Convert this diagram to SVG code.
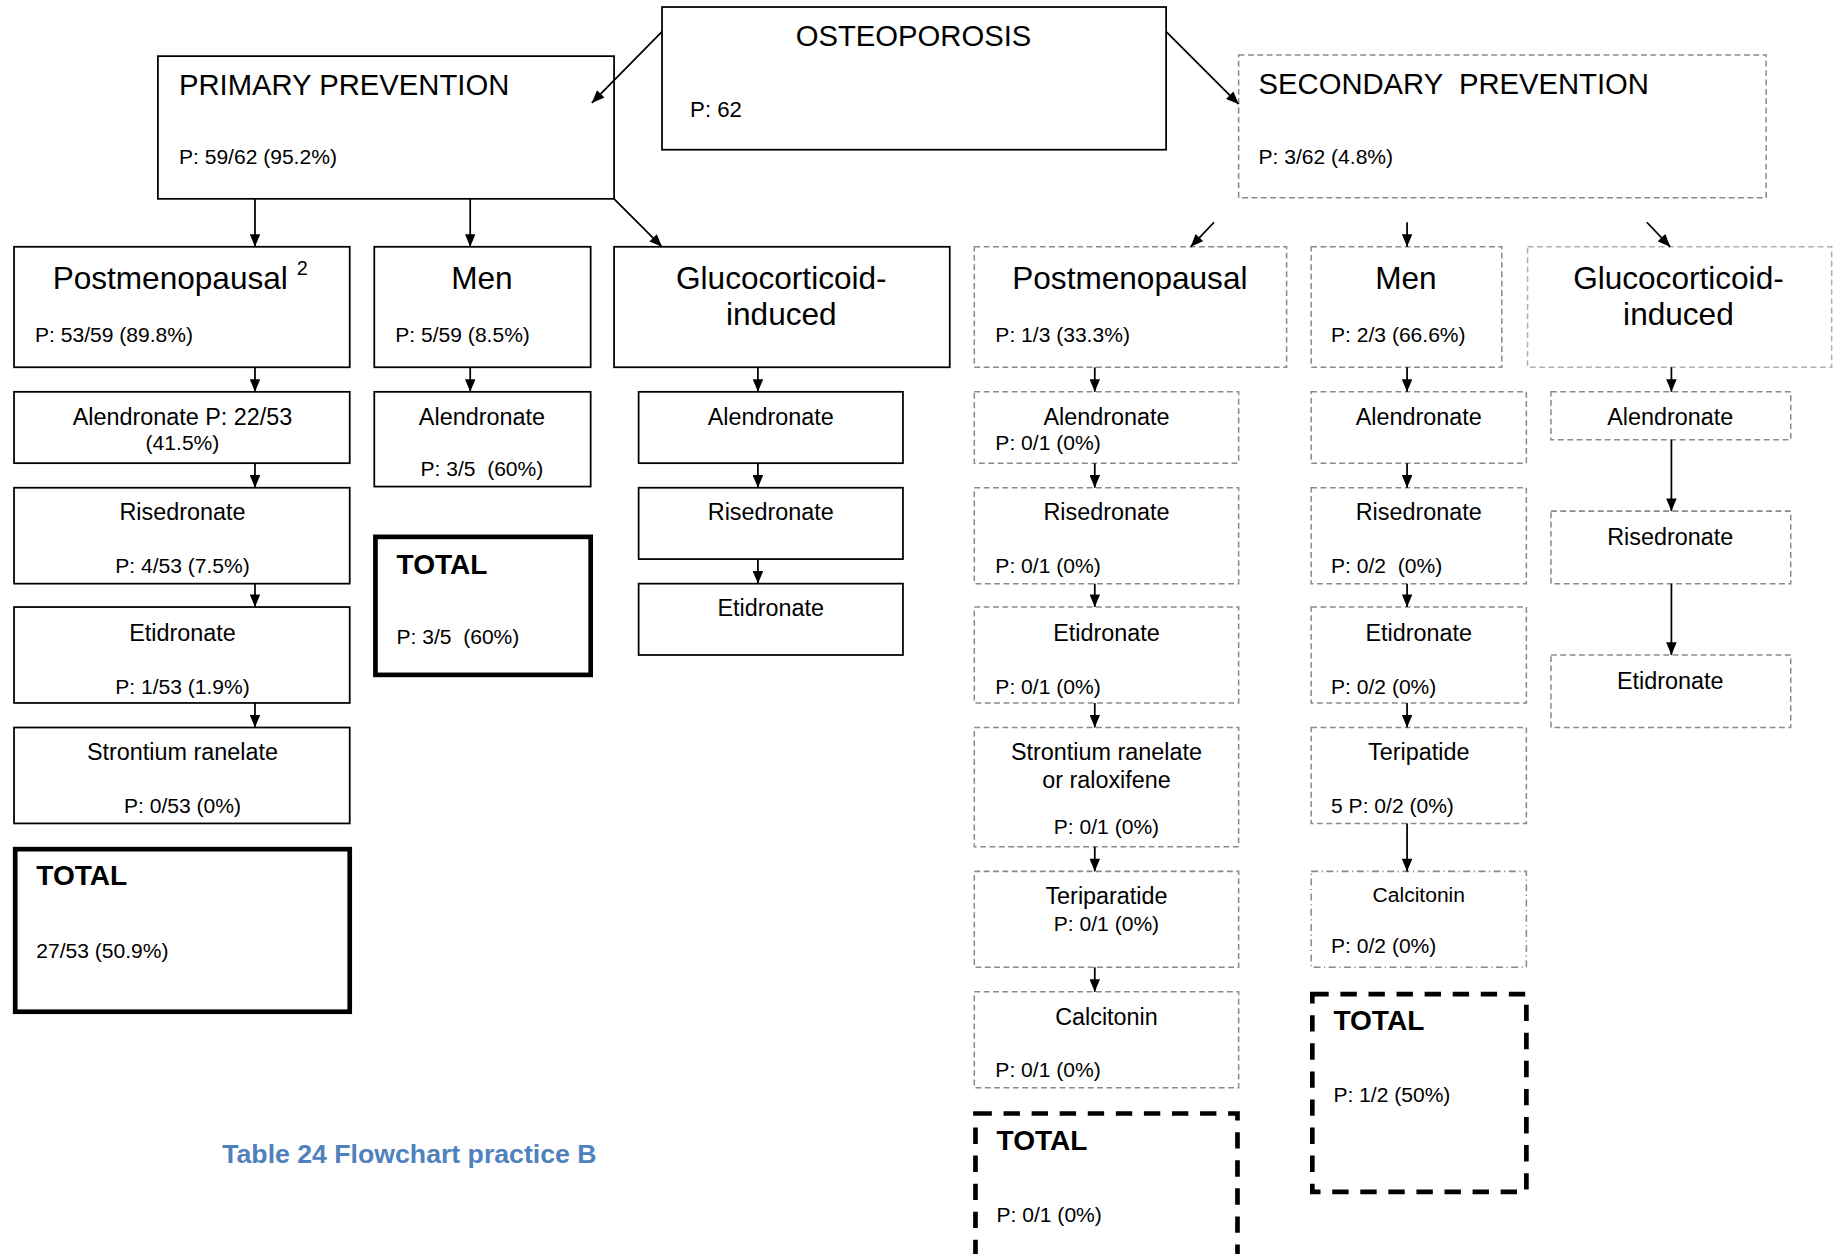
<svg xmlns="http://www.w3.org/2000/svg" width="1834" height="1254" viewBox="0 0 1834 1254">
<style>
text { font-family: "Liberation Sans", Arial, Helvetica, sans-serif; fill: #000; }
.h25 { font-size: 25px; }
.h27 { font-size: 27px; }
.b20 { font-size: 20px; }
.p18 { font-size: 18px; }
.c { text-anchor: middle; }
.tot { font-size: 24px; font-weight: bold; }
.box { fill: #fff; stroke: #000; stroke-width: 1.5; }
.dbox { fill: #fff; stroke: #8a8a8a; stroke-width: 1.3; stroke-dasharray: 5 3; }
.lbox { fill: #fff; stroke: #b0b0b0; stroke-width: 1.3; stroke-dasharray: 5 3; }
.ddbox { fill: #fff; stroke: #8a8a8a; stroke-width: 1.3; stroke-dasharray: 6 3 1 3; }
.thick { fill: #fff; stroke: #000; stroke-width: 4; }
.tdash { fill: #fff; stroke: #000; stroke-width: 4; stroke-dasharray: 14 10; }
.cn { fill: none; stroke: #000; stroke-width: 1.5; marker-end: url(#ah); }
.cap { font-size: 22.8px; font-weight: bold; fill: #4f81bd; }
</style>
<defs>
<marker id="ah" viewBox="0 0 12 10" refX="12" refY="5" markerWidth="12" markerHeight="9" orient="auto" markerUnits="userSpaceOnUse">
<path d="M0,0 L12,5 L0,10 z" fill="#000"/>
</marker>
</defs>
<rect width="1834" height="1254" fill="#fff"/>
<g transform="scale(1.16964)">

<g id="osteoporosis">
<rect class="box" x="566" y="6" width="431" height="122"/>
<text class="h25 c" x="781" y="39">OSTEOPOROSIS</text>
<text x="590" y="100" style="font-size:19px">P: 62</text>
</g>

<g id="primary">
<rect class="box" x="135" y="48" width="390" height="122"/>
<text class="h25" x="153" y="81">PRIMARY PREVENTION</text>
<text class="p18" x="153" y="140">P: 59/62 (95.2%)</text>
</g>

<g id="secondary">
<rect class="dbox" x="1059" y="47" width="451" height="122"/>
<text class="h25" x="1076" y="80" xml:space="preserve">SECONDARY  PREVENTION</text>
<text class="p18" x="1076" y="140">P: 3/62 (4.8%)</text>
</g>

<!-- Primary categories -->
<g id="p-post">
<rect class="box" x="12" y="211" width="287" height="103"/>
<text class="h27" x="45" y="247">Postmenopausal <tspan font-size="17" dy="-12">2</tspan></text>
<text class="p18" x="30" y="292">P: 53/59 (89.8%)</text>
</g>
<g id="p-men">
<rect class="box" x="320" y="211" width="185" height="103"/>
<text class="h27 c" x="412" y="247">Men</text>
<text class="p18" x="338" y="292">P: 5/59 (8.5%)</text>
</g>
<g id="p-gluco">
<rect class="box" x="525" y="211" width="287" height="103"/>
<text class="h27 c" x="668" y="247">Glucocorticoid-</text>
<text class="h27 c" x="668" y="278">induced</text>
</g>

<!-- Secondary categories -->
<g id="s-post">
<rect class="dbox" x="833" y="211" width="267" height="103"/>
<text class="h27 c" x="966" y="247">Postmenopausal</text>
<text class="p18" x="851" y="292">P: 1/3 (33.3%)</text>
</g>
<g id="s-men">
<rect class="dbox" x="1121" y="211" width="163" height="103"/>
<text class="h27 c" x="1202" y="247">Men</text>
<text class="p18" x="1138" y="292">P: 2/3 (66.6%)</text>
</g>
<g id="s-gluco">
<rect class="lbox" x="1306" y="211" width="260" height="103"/>
<text class="h27 c" x="1435" y="247">Glucocorticoid-</text>
<text class="h27 c" x="1435" y="278">induced</text>
</g>

<!-- Primary postmenopausal column -->
<g id="pp-alen">
<rect class="box" x="12" y="335" width="287" height="61"/>
<text class="b20 c" x="156" y="363">Alendronate P: 22/53</text>
<text class="p18 c" x="156" y="385">(41.5%)</text>
</g>
<g id="pp-rise">
<rect class="box" x="12" y="417" width="287" height="82"/>
<text class="b20 c" x="156" y="445">Risedronate</text>
<text class="p18 c" x="156" y="490">P: 4/53 (7.5%)</text>
</g>
<g id="pp-etid">
<rect class="box" x="12" y="519" width="287" height="82"/>
<text class="b20 c" x="156" y="548">Etidronate</text>
<text class="p18 c" x="156" y="593">P: 1/53 (1.9%)</text>
</g>
<g id="pp-stron">
<rect class="box" x="12" y="622" width="287" height="82"/>
<text class="b20 c" x="156" y="650">Strontium ranelate</text>
<text class="p18 c" x="156" y="695">P: 0/53 (0%)</text>
</g>
<g id="pp-total">
<rect class="thick" x="13" y="726" width="286" height="139"/>
<text class="tot" x="31" y="757">TOTAL</text>
<text class="p18" x="31" y="819">27/53 (50.9%)</text>
</g>

<!-- Primary men column -->
<g id="pm-alen">
<rect class="box" x="320" y="335" width="185" height="81"/>
<text class="b20 c" x="412" y="363">Alendronate</text>
<text class="p18 c" x="412" y="407" xml:space="preserve">P: 3/5  (60%)</text>
</g>
<g id="pm-total">
<rect class="thick" x="321" y="459" width="184" height="118"/>
<text class="tot" x="339" y="491">TOTAL</text>
<text class="p18" x="339" y="551" xml:space="preserve">P: 3/5  (60%)</text>
</g>

<!-- Primary gluco column -->
<g id="pg-alen">
<rect class="box" x="546" y="335" width="226" height="61"/>
<text class="b20 c" x="659" y="363">Alendronate</text>
</g>
<g id="pg-rise">
<rect class="box" x="546" y="417" width="226" height="61"/>
<text class="b20 c" x="659" y="445">Risedronate</text>
</g>
<g id="pg-etid">
<rect class="box" x="546" y="499" width="226" height="61"/>
<text class="b20 c" x="659" y="527">Etidronate</text>
</g>

<!-- Secondary postmenopausal column -->
<g id="sp-alen">
<rect class="dbox" x="833" y="335" width="226" height="61"/>
<text class="b20 c" x="946" y="363">Alendronate</text>
<text class="p18" x="851" y="385">P: 0/1 (0%)</text>
</g>
<g id="sp-rise">
<rect class="dbox" x="833" y="417" width="226" height="82"/>
<text class="b20 c" x="946" y="445">Risedronate</text>
<text class="p18" x="851" y="490">P: 0/1 (0%)</text>
</g>
<g id="sp-etid">
<rect class="dbox" x="833" y="519" width="226" height="82"/>
<text class="b20 c" x="946" y="548">Etidronate</text>
<text class="p18" x="851" y="593">P: 0/1 (0%)</text>
</g>
<g id="sp-stron">
<rect class="dbox" x="833" y="622" width="226" height="102"/>
<text class="b20 c" x="946" y="650">Strontium ranelate</text>
<text class="b20 c" x="946" y="674">or raloxifene</text>
<text class="p18 c" x="946" y="713">P: 0/1 (0%)</text>
</g>
<g id="sp-teri">
<rect class="dbox" x="833" y="745" width="226" height="82"/>
<text class="b20 c" x="946" y="773">Teriparatide</text>
<text class="p18 c" x="946" y="796">P: 0/1 (0%)</text>
</g>
<g id="sp-calc">
<rect class="dbox" x="833" y="848" width="226" height="82"/>
<text class="b20 c" x="946" y="876">Calcitonin</text>
<text class="p18" x="851" y="921">P: 0/1 (0%)</text>
</g>
<g id="sp-total">
<rect class="tdash" x="834" y="952" width="224" height="125"/>
<text class="tot" x="852" y="983">TOTAL</text>
<text class="p18" x="852" y="1045">P: 0/1 (0%)</text>
</g>

<!-- Secondary men column -->
<g id="sm-alen">
<rect class="dbox" x="1121" y="335" width="184" height="61"/>
<text class="b20 c" x="1213" y="363">Alendronate</text>
</g>
<g id="sm-rise">
<rect class="dbox" x="1121" y="417" width="184" height="82"/>
<text class="b20 c" x="1213" y="445">Risedronate</text>
<text class="p18" x="1138" y="490" xml:space="preserve">P: 0/2  (0%)</text>
</g>
<g id="sm-etid">
<rect class="dbox" x="1121" y="519" width="184" height="82"/>
<text class="b20 c" x="1213" y="548">Etidronate</text>
<text class="p18" x="1138" y="593">P: 0/2 (0%)</text>
</g>
<g id="sm-teri">
<rect class="dbox" x="1121" y="622" width="184" height="82"/>
<text class="b20 c" x="1213" y="650">Teripatide</text>
<text class="p18" x="1138" y="695">5 P: 0/2 (0%)</text>
</g>
<g id="sm-calc">
<rect class="ddbox" x="1121" y="745" width="184" height="82"/>
<text class="p18 c" x="1213" y="771">Calcitonin</text>
<text class="p18" x="1138" y="815">P: 0/2 (0%)</text>
</g>
<g id="sm-total">
<rect class="tdash" x="1122" y="850" width="183" height="169"/>
<text class="tot" x="1140" y="881">TOTAL</text>
<text class="p18" x="1140" y="942">P: 1/2 (50%)</text>
</g>

<!-- Secondary gluco column -->
<g id="sg-alen">
<rect class="dbox" x="1326" y="335" width="205" height="41"/>
<text class="b20 c" x="1428" y="363">Alendronate</text>
</g>
<g id="sg-rise">
<rect class="dbox" x="1326" y="437" width="205" height="62"/>
<text class="b20 c" x="1428" y="466">Risedronate</text>
</g>
<g id="sg-etid">
<rect class="dbox" x="1326" y="560" width="205" height="62"/>
<text class="b20 c" x="1428" y="589">Etidronate</text>
</g>

<text class="cap" x="190" y="994">Table 24 Flowchart practice B</text>

<g id="connectors">
<line class="cn" x1="566" y1="27" x2="506" y2="88"/>
<line class="cn" x1="997" y1="27" x2="1059" y2="89"/>
<line class="cn" x1="218" y1="170" x2="218" y2="211"/>
<line class="cn" x1="402" y1="170" x2="402" y2="211"/>
<line class="cn" x1="525" y1="170" x2="566" y2="211"/>
<line class="cn" x1="1038" y1="190" x2="1018" y2="211"/>
<line class="cn" x1="1203" y1="190" x2="1203" y2="211"/>
<line class="cn" x1="1408" y1="190" x2="1428" y2="211"/>
<line class="cn" x1="218" y1="314" x2="218" y2="335"/>
<line class="cn" x1="218" y1="396" x2="218" y2="417"/>
<line class="cn" x1="218" y1="499" x2="218" y2="519"/>
<line class="cn" x1="218" y1="601" x2="218" y2="622"/>
<line class="cn" x1="402" y1="314" x2="402" y2="335"/>
<line class="cn" x1="648" y1="314" x2="648" y2="335"/>
<line class="cn" x1="648" y1="396" x2="648" y2="417"/>
<line class="cn" x1="648" y1="478" x2="648" y2="499"/>
<line class="cn" x1="936" y1="314" x2="936" y2="335"/>
<line class="cn" x1="936" y1="396" x2="936" y2="417"/>
<line class="cn" x1="936" y1="499" x2="936" y2="519"/>
<line class="cn" x1="936" y1="601" x2="936" y2="622"/>
<line class="cn" x1="936" y1="724" x2="936" y2="745"/>
<line class="cn" x1="936" y1="827" x2="936" y2="848"/>
<line class="cn" x1="1203" y1="314" x2="1203" y2="335"/>
<line class="cn" x1="1203" y1="396" x2="1203" y2="417"/>
<line class="cn" x1="1203" y1="499" x2="1203" y2="519"/>
<line class="cn" x1="1203" y1="601" x2="1203" y2="622"/>
<line class="cn" x1="1203" y1="704" x2="1203" y2="745"/>
<line class="cn" x1="1429" y1="314" x2="1429" y2="335"/>
<line class="cn" x1="1429" y1="376" x2="1429" y2="437"/>
<line class="cn" x1="1429" y1="499" x2="1429" y2="560"/>
</g>
</g>
</svg>
